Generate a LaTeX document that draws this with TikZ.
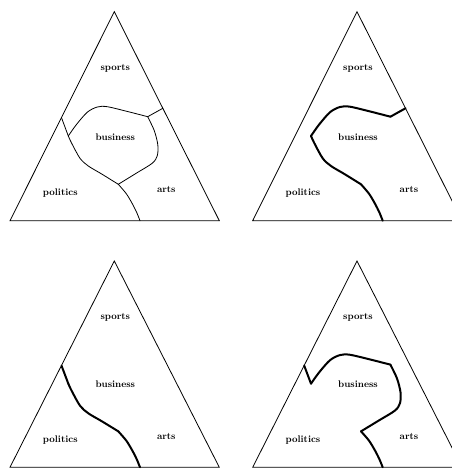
\documentclass[tikz,border=0pt]{standalone}
\tikzset{
  tri/.style={line width=0.8pt, line join=miter},
  thinb/.style={line width=0.8pt, line cap=round, line join=round},
  boldb/.style={line width=2pt, line cap=round, line join=round},
  lab/.style={font=\fontsize{9.6}{11}\selectfont\bfseries, inner sep=0pt}
}
\newcommand\mkpanel[1]{%
  \coordinate (#1ap) at (0,0);
  \coordinate (#1bl) at (-104.3,209);
  \coordinate (#1br) at (105,209);
  \coordinate (#1L) at (-52.8,106);
  \coordinate (#1R) at (48.5,96.6);
  \coordinate (#1A) at (33.4,105);
  \coordinate (#1B) at (-46,124.3);
  \coordinate (#1C) at (4,172.6);
  \coordinate (#1D) at (25.7,209);
  \draw[tri] (#1ap) -- (#1br) -- (#1bl) -- cycle;
  \node[lab] (#1sports) at (1,57) {sports};
  \node[lab] (#1business) at (1,125) {business};
  \node[lab] (#1politics) at (-54,181) {politics};
  \node[lab] (#1arts) at (52,178) {arts};
}
\newcommand\segLB[2]{\draw[#2] (#1L) -- (#1B);}
\newcommand\segAR[2]{\draw[#2] (#1A) -- (#1R);}
\newcommand\segBA[2]{\draw[#2] plot[smooth] coordinates {(#1B) (-38,113) (-27,100.5) (-17,95.3) (-7,95) (14,100) (#1A)};}
\newcommand\segAC[2]{\draw[#2] plot[smooth] coordinates {(#1A) (40,119) (43.5,133) (43,144) (38,151.5) (22,161.5) (#1C)};}
\newcommand\segCB[2]{\draw[#2] plot[smooth] coordinates {(#1C) (-12.6,162.3) (-26,154.3) (-34.3,146.6) (-42.6,131.6) (#1B)};}
\newcommand\segCD[2]{\draw[#2] plot[smooth] coordinates {(#1C) (12,182) (18,192) (22.5,201) (#1D)};}
\begin{document}
\begin{tikzpicture}[x=1pt,y=-1pt]
\useasboundingbox (0,0) rectangle (452,471);
\fill[white] (0,0) rectangle (452,471);
\clip (0,0) rectangle (452,471);
% top left
\begin{scope}[shift={(114.3,11.7)}]
  \mkpanel{a}
  \segLB{a}{thinb}
  \segAR{a}{thinb}
  \segBA{a}{thinb}
  \segAC{a}{thinb}
  \segCB{a}{thinb}
  \segCD{a}{thinb}
\end{scope}
% top right
\begin{scope}[shift={(357,11.7)}]
  \mkpanel{b}
  \segAR{b}{boldb}
  \segBA{b}{boldb}
  \segCB{b}{boldb}
  \segCD{b}{boldb}
\end{scope}
% bottom left
\begin{scope}[shift={(114.3,261)}, yscale=0.987]
  \mkpanel{c}
  \segLB{c}{boldb}
  \segCB{c}{boldb}
  \segCD{c}{boldb}
\end{scope}
% bottom right
\begin{scope}[shift={(357,261)}, yscale=0.987]
  \mkpanel{d}
  \segLB{d}{boldb}
  \segBA{d}{boldb}
  \segAC{d}{boldb}
  \segCD{d}{boldb}
\end{scope}
\end{tikzpicture}
\end{document}
